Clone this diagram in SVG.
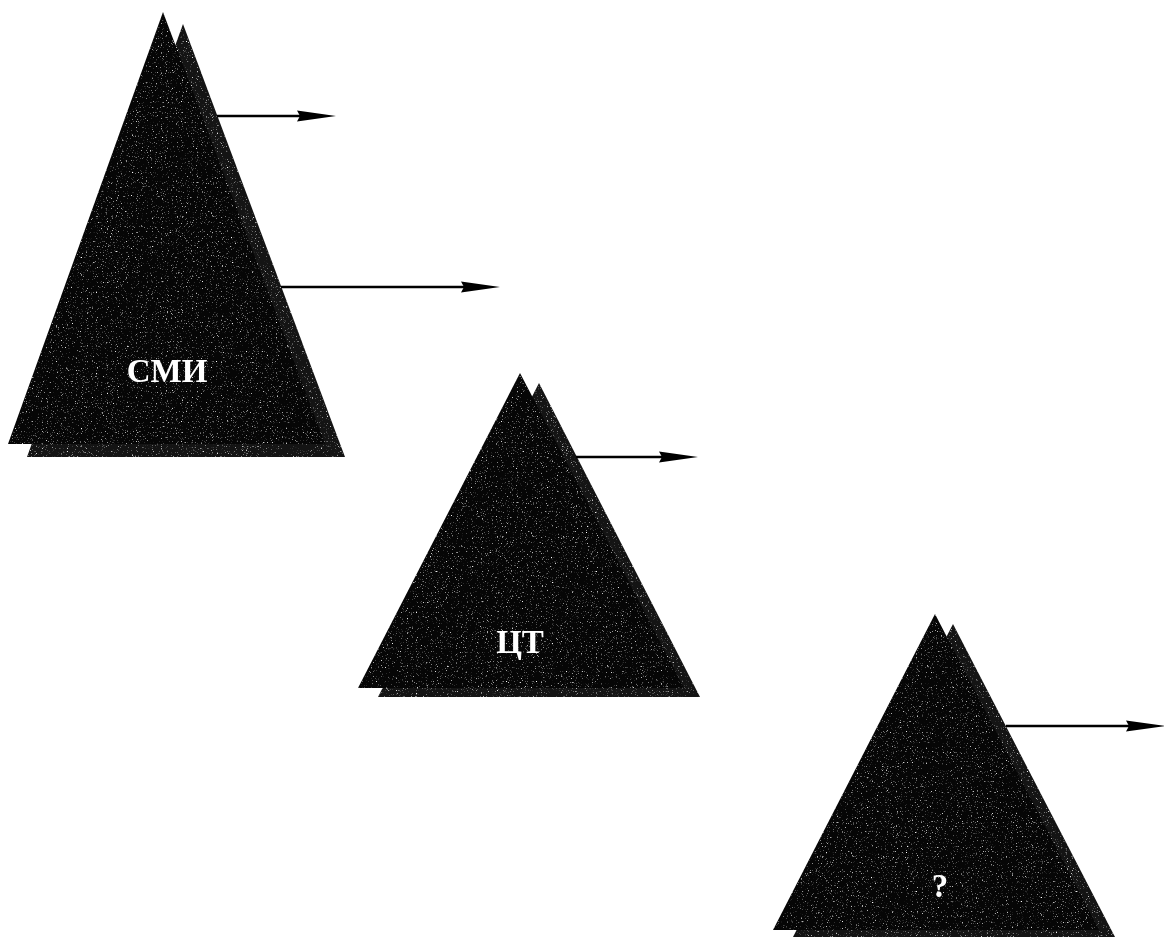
<svg xmlns="http://www.w3.org/2000/svg" width="1164" height="938" viewBox="0 0 1164 938">
  <style>
    .front { fill: #060606; }
    .back { fill: #141414; }
    .label { font-family: "Liberation Serif", "Times New Roman", serif; font-weight: bold; font-size: 33px; fill: #ffffff; text-anchor: middle; }
    .conn { stroke: #000000; stroke-width: 2.5; fill: none; marker-end: url(#arrow); }
  </style>
  <defs>
    <marker id="arrow" markerUnits="userSpaceOnUse" viewBox="0 0 39 12" refX="19" refY="6" markerWidth="39" markerHeight="12" orient="auto">
      <path d="M0,0.5 L39,6 L0,11.5 L3,6 z" fill="#000000"/>
    </marker>
    <filter id="grain" x="0" y="0" width="100%" height="100%" color-interpolation-filters="sRGB">
      <feTurbulence type="fractalNoise" baseFrequency="0.8" numOctaves="2" seed="7" result="n"/>
      <feColorMatrix in="n" type="matrix" values="0 0 0 0 1  0 0 0 0 1  0 0 0 0 1  4 0 0 0 -2.5" result="specks"/>
      <feComposite in="specks" in2="SourceGraphic" operator="in" result="s2"/>
      <feMerge><feMergeNode in="SourceGraphic"/><feMergeNode in="s2"/></feMerge>
    </filter>
  </defs>
  <rect width="1164" height="938" fill="#ffffff"/>

  <g id="node-smi" filter="url(#grain)">
    <polygon class="back" points="183,24 27,457 345,457"/>
    <polygon class="front" points="163,12 8,444 325,444"/>
    <text class="label" x="167" y="382">СМИ</text>
  </g>

  <g id="node-ct" filter="url(#grain)">
    <polygon class="back" points="539,383 378,697 700,697"/>
    <polygon class="front" points="520,373 358,688 684,688"/>
    <text class="label" x="520" y="653">ЦТ</text>
  </g>

  <g id="node-q" filter="url(#grain)">
    <polygon class="back" points="953,624 793,937 1115,937"/>
    <polygon class="front" points="935,614 773,930 1099,930"/>
    <text class="label" x="940" y="897">?</text>
  </g>

  <g id="connectors">
    <line class="conn" x1="217" y1="116" x2="316" y2="116"/>
    <line class="conn" x1="281" y1="287" x2="480" y2="287"/>
    <line class="conn" x1="576" y1="457" x2="678" y2="457"/>
    <line class="conn" x1="1006" y1="726" x2="1145" y2="726"/>
  </g>
</svg>
